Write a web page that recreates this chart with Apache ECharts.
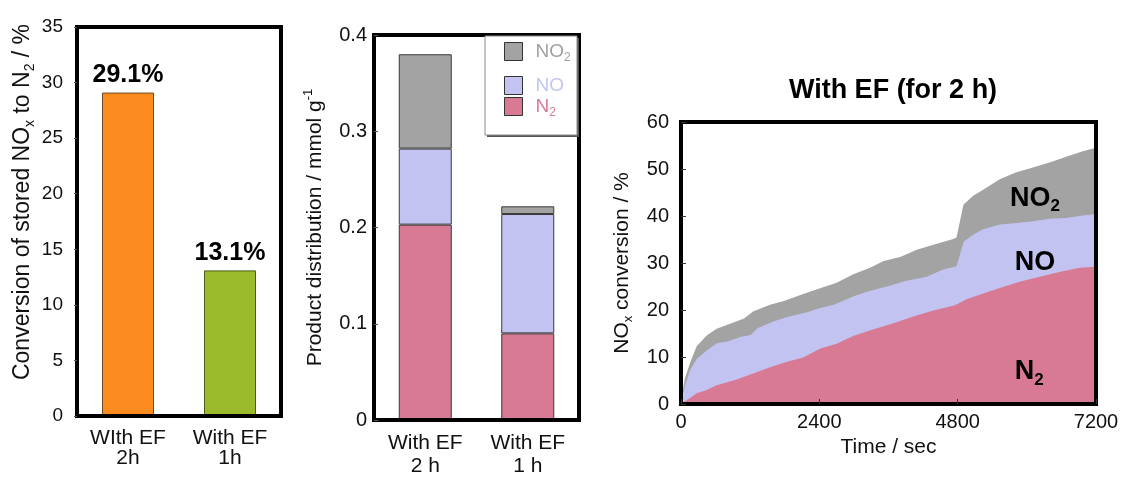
<!DOCTYPE html>
<html>
<head>
<meta charset="utf-8">
<script src="https://cdn.jsdelivr.net/npm/echarts@6/dist/echarts.min.js"></script>
<style>
  html, body { margin: 0; padding: 0; background: #fff; }
  #chart { width: 1132px; height: 478px; }
</style>
</head>
<body>
<div id="chart"></div>
<script>
// ---- Panel (a): conversion of stored NOx to N2 ----
const convCategories = ['WIth EF\n2h', 'With EF\n1h'];
const convValues = [29.1, 13.1];
const convColors = ['#fb8b1e', '#9bbb2d'];
const convBorders = ['#6e4a22', '#4c5c16'];
const convTicks = { min: 0, max: 35, interval: 5 };

// ---- Panel (b): product distribution (mmol g-1) ----
const distCategories = ['With EF\n2 h', 'With EF\n1 h'];
const distN2 = [0.203, 0.090];
const distNO = [0.079, 0.124];
const distNO2 = [0.098, 0.008];
const distTicks = { min: 0, max: 0.4, interval: 0.1 };

// ---- Panel (c): NOx conversion vs time, cumulative boundaries [sec, %] ----
const totalEdge = [[0,0],[40,3.5],[69,5.5],[156,8.7],[272,12.3],[446,14.6],[619,16.0],[966,17.6],[1094,18.2],[1250,19.7],[1544,21.1],[1786,21.9],[2120,23.4],[2362,24.4],[2700,25.8],[2990,27.6],[3280,29.0],[3514,30.4],[3802,31.3],[4090,32.8],[4378,33.9],[4723,35.1],[4780,35.4],[4900,42.4],[5069,44.3],[5242,45.6],[5530,47.8],[5818,49.3],[6106,50.3],[6394,51.4],[6682,52.6],[6970,53.8],[7200,54.5]];
const noEdge = [[0,0],[40,2.5],[69,3.9],[156,7.2],[272,9.6],[446,11.4],[619,12.9],[806,13.3],[1037,14.3],[1210,14.7],[1325,16.1],[1613,17.6],[1843,18.5],[2189,19.5],[2419,20.4],[2650,21.1],[2995,22.9],[3226,23.9],[3571,25.0],[3917,26.2],[4262,27.1],[4550,28.6],[4780,29.3],[4907,34.6],[5069,36.0],[5242,37.2],[5530,38.2],[5818,38.5],[6106,38.9],[6394,39.4],[6682,39.6],[6970,40.1],[7200,40.4]];
const n2Edge = [[0,0],[69,0.6],[156,1.3],[272,2.3],[446,3.0],[619,4.0],[966,5.2],[1250,6.5],[1544,7.8],[1843,9.0],[2120,9.9],[2419,11.8],[2700,12.8],[2995,14.5],[3341,15.9],[3686,17.2],[4032,18.6],[4378,19.9],[4752,21.0],[4954,22.3],[5242,23.5],[5530,24.7],[5875,26.0],[6221,27.1],[6566,28.1],[6912,29.0],[7200,29.2]];
const timeTicks = { min: 0, max: 7200, interval: 2400 };
const convPctTicks = { min: 0, max: 60, interval: 10 };
// in-plot species labels: [sec, %]
const labelNO2At = [6140, 43.8];
const labelNOAt = [6140, 30.2];
const labelN2At = [6040, 6.8];

const FONT = '"Liberation Sans", Arial, Helvetica, sans-serif';
const C_N2 = '#d87a93', C_NO = '#c3c3f1', C_NO2 = '#a3a3a3';

// rich styles for sub/superscripts
function richSet(size, color, weight) {
  const c = color || '#111';
  const w = weight || 'normal';
  const small = Math.round(size * 0.62);
  return {
    m: { fontSize: size, fontFamily: FONT, color: c, fontWeight: w },
    s: { fontSize: small, fontFamily: FONT, color: c, fontWeight: w, padding: [small, 0, 0, 0] },
    u: { fontSize: small, fontFamily: FONT, color: c, fontWeight: w, padding: [0, 0, small, 0] }
  };
}

const frame = { show: true, borderColor: '#000', borderWidth: 4, backgroundColor: 'transparent', z: 10 };

const chart = echarts.init(document.getElementById('chart'), null, { renderer: 'canvas' });

const option = {
  animation: false,
  backgroundColor: '#fff',
  textStyle: { fontFamily: FONT, color: '#111' },
  title: {
    text: 'With EF (for 2 h)',
    left: 888, top: 72, textAlign: 'center',
    textStyle: { fontFamily: FONT, fontWeight: 'bold', fontSize: 27, color: '#000' }
  },
  grid: [
    Object.assign({ left: 77, top: 27, width: 204, height: 389 }, frame),
    Object.assign({ left: 374, top: 35, width: 205, height: 386 }, frame),
    Object.assign({ left: 681, top: 122, width: 415, height: 282 }, frame)
  ],
  xAxis: [
    {
      gridIndex: 0, type: 'category', data: convCategories,
      axisLine: { show: false }, axisTick: { show: false },
      axisLabel: { fontSize: 21, lineHeight: 20, color: '#111', margin: 12, fontFamily: FONT }
    },
    {
      gridIndex: 1, type: 'category', data: distCategories,
      axisLine: { show: false }, axisTick: { show: false },
      axisLabel: { fontSize: 21, lineHeight: 23, color: '#111', margin: 12, fontFamily: FONT }
    },
    {
      gridIndex: 2, type: 'value', min: timeTicks.min, max: timeTicks.max, interval: timeTicks.interval,
      z: 11,
      axisLine: { show: false },
      axisTick: { show: true, inside: true, length: 5, lineStyle: { color: '#333', width: 1 } },
      splitLine: { show: false },
      axisLabel: { fontSize: 20, color: '#111', margin: 8, fontFamily: FONT, formatter: (v) => String(v) },
      name: 'Time / sec', nameLocation: 'middle', nameGap: 31,
      nameTextStyle: { fontSize: 21, color: '#111', fontFamily: FONT }
    }
  ],
  yAxis: [
    {
      gridIndex: 0, type: 'value', min: convTicks.min, max: convTicks.max, interval: convTicks.interval,
      z: 11,
      axisLine: { show: false },
      axisTick: { show: true, inside: false, length: 3, lineStyle: { color: '#555', width: 1 } },
      splitLine: { show: false },
      axisLabel: { fontSize: 19, color: '#111', margin: 14, fontFamily: FONT },
      name: '{m|Conversion of stored NO}{s|x}{m| to N}{s|2}{m| / %}',
      nameLocation: 'middle', nameRotate: 90, nameGap: 40,
      nameTextStyle: { rich: richSet(23), padding: [0, 0, 0, 39] }
    },
    {
      gridIndex: 1, type: 'value', min: distTicks.min, max: distTicks.max, interval: distTicks.interval,
      z: 11,
      axisLine: { show: false },
      axisTick: { show: true, inside: true, length: 4, lineStyle: { color: '#555', width: 1 } },
      splitLine: { show: false },
      axisLabel: { fontSize: 20, color: '#111', margin: 7, fontFamily: FONT },
      name: '{m|Product distribution / mmol g}{u|-1}',
      nameLocation: 'middle', nameRotate: 90, nameGap: 46,
      nameTextStyle: { rich: richSet(21) }
    },
    {
      gridIndex: 2, type: 'value', min: convPctTicks.min, max: convPctTicks.max, interval: convPctTicks.interval,
      z: 11,
      axisLine: { show: false },
      axisTick: { show: true, inside: true, length: 5, lineStyle: { color: '#333', width: 1 } },
      splitLine: { show: false },
      axisLabel: { fontSize: 20, color: '#111', margin: 12, fontFamily: FONT },
      name: '{m|NO}{s|x}{m| conversion / %}',
      nameLocation: 'middle', nameRotate: 90, nameGap: 46,
      nameTextStyle: { rich: richSet(21) }
    }
  ],
  legend: [
    {
      data: ['NO2'], left: 504, top: 42, padding: 0,
      itemWidth: 18, itemHeight: 18, icon: 'rect', z: 12,
      itemStyle: { borderColor: '#333', borderWidth: 1 },
      formatter: () => '{m|NO}{s|2}',
      textStyle: { rich: richSet(19, '#a0a0a0'), padding: [0, 0, 0, 8] }
    },
    {
      data: ['NO', 'N2'], left: 504, top: 76, padding: 0, orient: 'vertical', itemGap: 2,
      itemWidth: 18, itemHeight: 18, icon: 'rect', z: 12,
      itemStyle: { borderColor: '#333', borderWidth: 1 },
      formatter: (name) => name === 'NO' ? '{b|NO}' : '{m|N}{s|2}',
      textStyle: {
        padding: [0, 0, 0, 8],
        rich: Object.assign(richSet(19, '#d87a93'), { b: { fontSize: 19, fontFamily: FONT, color: '#c4c4f4' } })
      }
    }
  ],
  graphic: [
    // legend box: offset dark rect as drop shadow, white framed rect on top
    {
      type: 'rect', z: 11,
      shape: { x: 487, y: 38, width: 92, height: 99 },
      style: { fill: '#555', stroke: null }
    },
    {
      type: 'rect', z: 11,
      shape: { x: 485, y: 36, width: 92, height: 99 },
      style: { fill: '#fff', stroke: '#8a8a8a', lineWidth: 1 }
    }
  ],
  series: [
    {
      type: 'bar', xAxisIndex: 0, yAxisIndex: 0, barWidth: 52,
      data: convValues.map((v, i) => ({
        value: v,
        itemStyle: { color: convColors[i], borderColor: convBorders[i], borderWidth: 1 }
      })),
      label: {
        show: true, position: 'top', distance: 5,
        formatter: (p) => p.value.toFixed(1) + '%',
        fontFamily: FONT, fontWeight: 'bold', fontSize: 25, color: '#000'
      }
    },
    {
      name: 'N2', type: 'bar', stack: 'dist', xAxisIndex: 1, yAxisIndex: 1, barWidth: 53,
      data: distN2, itemStyle: { color: C_N2, borderColor: '#3a3a3a', borderWidth: 1 }
    },
    {
      name: 'NO', type: 'bar', stack: 'dist', xAxisIndex: 1, yAxisIndex: 1, barWidth: 53,
      data: distNO, itemStyle: { color: C_NO, borderColor: '#3a3a3a', borderWidth: 1 }
    },
    {
      name: 'NO2', type: 'bar', stack: 'dist', xAxisIndex: 1, yAxisIndex: 1, barWidth: 53,
      data: distNO2, itemStyle: { color: C_NO2, borderColor: '#3a3a3a', borderWidth: 1 }
    },
    {
      name: 'NO2 conversion', type: 'line', xAxisIndex: 2, yAxisIndex: 2,
      data: totalEdge, showSymbol: false, symbol: 'none',
      lineStyle: { width: 0 }, areaStyle: { color: C_NO2, opacity: 1 }, z: 2,
      markPoint: {
        symbol: 'circle', symbolSize: 0,
        label: { show: true, position: 'inside', formatter: '{m|NO}{s|2}', rich: richSet(27, '#000', 'bold') },
        data: [{ coord: labelNO2At }]
      }
    },
    {
      name: 'NO conversion', type: 'line', xAxisIndex: 2, yAxisIndex: 2,
      data: noEdge, showSymbol: false, symbol: 'none',
      lineStyle: { width: 0 }, areaStyle: { color: C_NO, opacity: 1 }, z: 3,
      markPoint: {
        symbol: 'circle', symbolSize: 0,
        label: { show: true, position: 'inside', formatter: '{m|NO}', rich: richSet(27, '#000', 'bold') },
        data: [{ coord: labelNOAt }]
      }
    },
    {
      name: 'N2 conversion', type: 'line', xAxisIndex: 2, yAxisIndex: 2,
      data: n2Edge, showSymbol: false, symbol: 'none',
      lineStyle: { width: 0 }, areaStyle: { color: C_N2, opacity: 1 }, z: 4,
      markPoint: {
        symbol: 'circle', symbolSize: 0,
        label: { show: true, position: 'inside', formatter: '{m|N}{s|2}', rich: richSet(27, '#000', 'bold') },
        data: [{ coord: labelN2At }]
      }
    }
  ]
};

chart.setOption(option);
</script>
</body>
</html>
